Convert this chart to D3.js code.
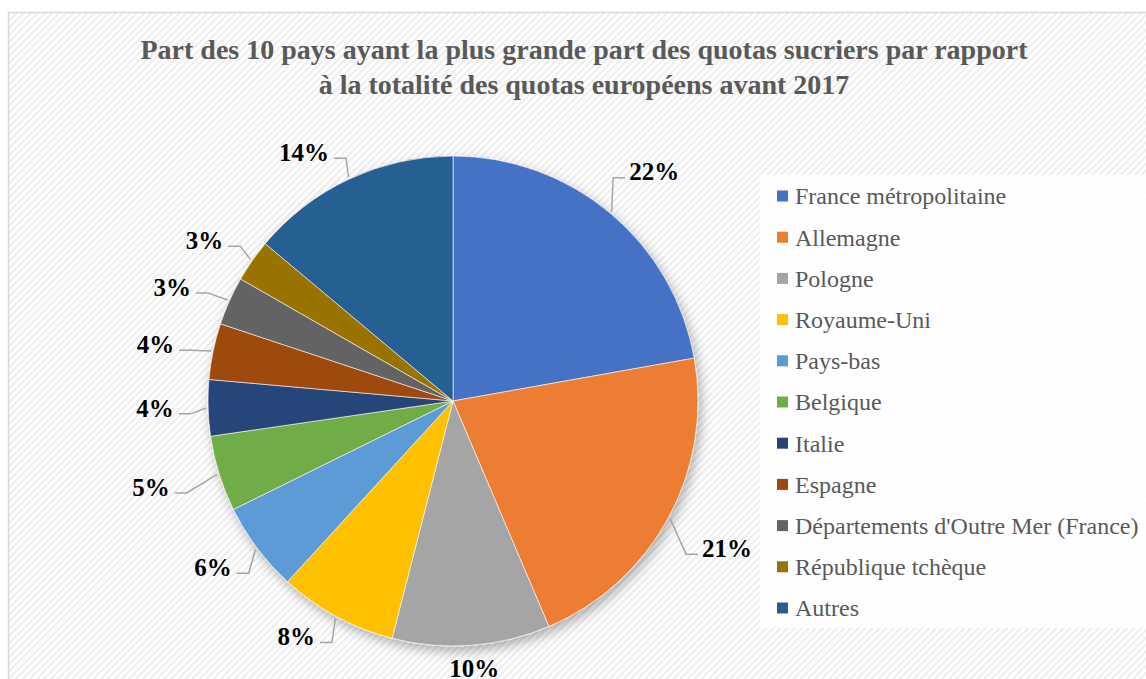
<!DOCTYPE html>
<html lang="fr">
	<head>
		<meta charset="UTF-8">
		<title>Part des 10 pays - quotas sucriers</title>
		<script src="https://d3js.org/d3.v7.min.js"></script>
		<style>
			body { margin: 0; background: #fff; }
			svg { display: block; }
		</style>
	</head>
	<body>
		<div id="chart"></div>

		<script type="text/javascript">
			// Data (percent of total EU quota)
			const countries = [
				'France métropolitaine', 'Allemagne', 'Pologne', 'Royaume-Uni', 'Pays-bas',
				'Belgique', 'Italie', 'Espagne', "Départements d'Outre Mer (France)",
				'République tchèque', 'Autres'
			];
			const shares = [22.2, 21.4, 10.4, 7.8, 5.9, 5.0, 3.7, 3.7, 3.2, 2.8, 13.9];
			const colors = [
				'#4472C4', '#ED7D31', '#A5A5A5', '#FFC000', '#5B9BD5',
				'#70AD47', '#264478', '#9E480E', '#636363', '#997300', '#255E91'
			];
			const titleLines = [
				'Part des 10 pays ayant la plus grande part des quotas sucriers par rapport',
				'à la totalité des quotas européens avant 2017'
			];

			// Layout
			const W = 1146, H = 679;
			const cx = 453, cy = 401, r = 245;
			const serif = '"Liberation Serif", "Times New Roman", serif';
			// label placement tweaks: [angle shift in degrees, distance from centre]
			const labelNudge = [[1.3, 305], [-0.2, 311], [-0.2, 268], [5.2, 283], [2.2, 292],
				[1.4, 314], [0.3, 298], [-0.9, 303], [-2.0, 303], [-2.0, 296], [-5.9, 290]];

			const svg = d3.select('#chart')
				.append('svg')
				.attr('width', W)
				.attr('height', H);

			const defs = svg.append('defs');

			// diagonal hatch background
			const pat = defs.append('pattern')
				.attr('id', 'hatch')
				.attr('patternUnits', 'userSpaceOnUse')
				.attr('width', 5)
				.attr('height', 5)
				.attr('patternTransform', 'rotate(-45)');
			pat.append('rect').attr('width', 5).attr('height', 5).attr('fill', '#fff');
			pat.append('rect').attr('width', 5).attr('height', 2.2).attr('fill', '#eeeeee');

			const shadow = defs.append('filter')
				.attr('id', 'shadow')
				.attr('x', '-20%').attr('y', '-20%')
				.attr('width', '140%').attr('height', '140%');
			shadow.append('feDropShadow')
				.attr('dx', 3).attr('dy', 5)
				.attr('stdDeviation', 6)
				.attr('flood-color', '#000')
				.attr('flood-opacity', 0.3);

			// chart area
			svg.append('rect')
				.attr('x', 8.5).attr('y', 12.5)
				.attr('width', W).attr('height', H)
				.attr('fill', 'url(#hatch)')
				.attr('stroke', '#d9d9d9')
				.attr('stroke-width', 1.5);

			// title
			svg.append('g')
				.selectAll('text')
				.data(titleLines)
				.enter()
				.append('text')
				.attr('x', 584)
				.attr('y', (d, i) => 59 + i * 35)
				.attr('text-anchor', 'middle')
				.attr('font-family', serif)
				.attr('font-weight', 'bold')
				.attr('font-size', '28px')
				.attr('fill', '#595959')
				.text(d => d);

			// pie
			const pie = d3.pie().sort(null).value(d => d);
			const arcs = pie(shares);
			const arc = d3.arc().innerRadius(0).outerRadius(r);

			const pieG = svg.append('g')
				.attr('transform', `translate(${cx},${cy})`);

			pieG.append('g')
				.attr('filter', 'url(#shadow)')
				.selectAll('path')
				.data(arcs)
				.enter()
				.append('path')
				.attr('d', arc)
				.attr('fill', (d, i) => colors[i])
				.attr('stroke', '#fff')
				.attr('stroke-width', 0.6);

			// labels with leader lines
			const fmt = v => Math.round(v) + '%';
			const labels = arcs.map((d, i) => {
				const mid = (d.startAngle + d.endAngle) / 2;
				const a = mid + labelNudge[i][0] * Math.PI / 180;
				const dist = labelNudge[i][1];
				return {
					mid: mid,
					x: Math.sin(a) * dist,
					y: -Math.cos(a) * dist,
					dist: dist,
					text: fmt(d.value)
				};
			});

			const labelG = pieG.append('g');
			const texts = labelG.selectAll('text')
				.data(labels)
				.enter()
				.append('text')
				.attr('x', d => d.x)
				.attr('y', d => d.y)
				.attr('dy', '0.35em')
				.attr('text-anchor', 'middle')
				.attr('font-family', serif)
				.attr('font-weight', 'bold')
				.attr('font-size', '25px')
				.attr('fill', '#000')
				.text(d => d.text);

			texts.each(function (d) {
				d.w = this.getComputedTextLength();
			});

			labelG.selectAll('polyline')
				.data(labels.filter(d => d.dist > 275))
				.enter()
				.insert('polyline', 'text')
				.attr('fill', 'none')
				.attr('stroke', '#a6a6a6')
				.attr('stroke-width', 1.5)
				.attr('points', d => {
					const ex = Math.sin(d.mid) * (r + 2);
					const ey = -Math.cos(d.mid) * (r + 2);
					const ly = d.y + 6;
					let x0, x1;
					if (d.x < 0) {
						x0 = d.x + d.w / 2 + 5;
						x1 = x0 + 12;
					} else {
						x0 = d.x - d.w / 2 - 4;
						x1 = x0 - 12;
					}
					return [[x0, ly], [x1, ly], [ex, ey]].map(p => p.join(',')).join(' ');
				});

			// legend
			const legendG = svg.append('g');
			legendG.append('rect')
				.attr('x', 760).attr('y', 175)
				.attr('width', 400).attr('height', 453)
				.attr('fill', '#fff')
				.attr('fill-opacity', 0.85);

			const items = legendG.selectAll('g.item')
				.data(countries)
				.enter()
				.append('g')
				.attr('class', 'item')
				.attr('transform', (d, i) => `translate(777,${196 + i * 41.2})`);

			items.append('rect')
				.attr('x', 0).attr('y', -5.5)
				.attr('width', 11).attr('height', 11)
				.attr('fill', (d, i) => colors[i]);

			items.append('text')
				.attr('x', 18)
				.attr('dy', '0.35em')
				.attr('font-family', serif)
				.attr('font-size', '24px')
				.attr('fill', '#595959')
				.text(d => d);
		</script>
	</body>
</html>
